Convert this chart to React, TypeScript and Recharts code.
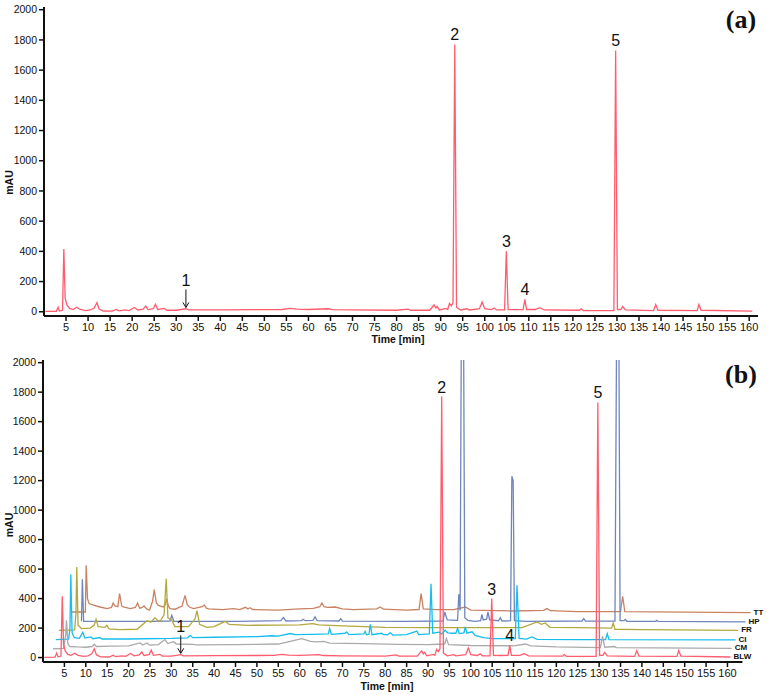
import { Line, LineChart, ReferenceDot, ReferenceLine, XAxis, YAxis } from "recharts"

type Pt = [number, number]

const FONT = "'Liberation Sans', Arial, Helvetica, sans-serif"

const X_TICKS = [
  5, 10, 15, 20, 25, 30, 35, 40, 45, 50, 55, 60, 65, 70, 75, 80, 85, 90, 95, 100,
  105, 110, 115, 120, 125, 130, 135, 140, 145, 150, 155, 160,
]
const Y_TICKS = [0, 200, 400, 600, 800, 1000, 1200, 1400, 1600, 1800, 2000]

// [time (min), mAU]
const BLW: Pt[] = [
  [0.3, 2], [2.8, 3], [3.2, 30], [3.5, 5], [4.2, 10], [4.5, 415], [4.8, 90], [5.2, 45],
  [5.8, 22], [6.6, 15], [7.4, 30], [8.2, 15], [9.5, 8], [10.5, 12], [11.4, 25], [12.0, 60],
  [12.5, 18], [13.5, 5], [15.5, 4], [16.4, 16], [17.0, 6], [18.4, 12], [19.3, 8], [20.5, 28],
  [21.3, 12], [22.5, 18], [23.1, 38], [23.6, 14], [24.8, 20], [25.3, 50], [25.8, 15],
  [27.3, 22], [27.9, 10], [30, 10], [32.2, 20], [32.8, 12], [40, 13], [50, 14], [54, 15],
  [55.8, 22], [57.5, 17], [60, 15], [64.5, 20], [65.5, 14], [70, 12], [80, 10], [82.6, 18],
  [83.2, 10], [87.5, 10], [88.5, 45], [88.9, 25], [89.2, 36], [89.7, 12], [91.2, 22],
  [91.6, 15], [92.0, 55], [92.4, 40], [92.8, 60], [93.2, 1770], [93.6, 30], [94.5, 12],
  [96, 20], [96.5, 12], [98.8, 20], [99.4, 65], [100.0, 20], [101.5, 14], [102.2, 25],
  [102.7, 12], [104.5, 12], [104.9, 400], [105.3, 15], [107, 14], [108.7, 15], [109.1, 82],
  [109.5, 15], [111.5, 15], [112.5, 27], [113.5, 12], [121.5, 10], [121.9, 20], [122.4, 8],
  [129.3, 8], [129.7, 1730], [130.1, 15], [130.9, 15], [131.3, 35], [131.9, 12], [138.3, 8],
  [138.8, 48], [139.3, 10], [148.2, 8], [148.6, 48], [149.1, 10], [160.7, 4],
]

const CM: Pt[] = [
  [2.4, 60], [4.8, 62], [5.3, 150], [5.5, 253], [5.8, 95], [6.3, 75], [8, 72], [10, 70],
  [11.5, 75], [12.0, 90], [12.5, 75], [16, 78], [20, 80], [22.7, 99], [23.3, 85], [24.3, 99],
  [24.9, 84], [27, 88], [28.5, 122], [29.2, 95], [30.5, 108], [31.2, 92], [35, 90], [36, 86],
  [45, 88], [55, 92], [57.8, 110], [60.5, 129], [62.5, 110], [64, 106], [65.6, 110], [67, 98],
  [75, 95], [83, 90], [90, 88], [93.9, 92], [94.3, 129], [94.8, 88], [100, 82], [110, 80],
  [112.8, 92], [114, 80], [120, 72], [130.3, 68], [130.8, 144], [131.3, 70], [133.6, 75],
  [134.0, 68], [161, 63],
]

const CI: Pt[] = [
  [3.0, 122], [6.0, 125], [6.3, 200], [6.5, 565], [6.8, 170], [7.3, 135], [8.5, 130],
  [9.3, 171], [9.8, 132], [11.2, 140], [11.7, 128], [13.3, 136], [13.8, 126], [20, 126],
  [30, 130], [33.8, 134], [34.4, 151], [35.0, 135], [40, 138], [50, 142], [53.5, 148],
  [55, 145], [57.8, 163], [59, 155], [63, 158], [66.7, 160], [67.0, 197], [67.4, 158],
  [70.6, 165], [71.0, 174], [71.5, 156], [75.0, 160], [75.3, 178], [75.6, 155], [76.2, 158],
  [76.5, 226], [76.9, 155], [79.2, 165], [79.5, 157], [80.5, 155], [81.2, 168], [81.8, 152],
  [85, 155], [87.4, 180], [87.8, 156], [90.3, 160], [90.7, 500], [91.1, 165], [92.6, 172],
  [93.2, 160], [94.0, 185], [94.6, 168], [95.5, 165], [96.5, 165], [96.9, 197], [97.3, 163],
  [98.4, 168], [98.7, 208], [99.1, 165], [100.3, 175], [101, 150], [103, 135], [105, 129],
  [110.4, 128], [110.8, 490], [111.3, 130], [113, 125], [114.3, 140], [115.5, 124],
  [125, 122], [131.5, 122], [131.9, 163], [132.3, 122], [161.9, 120],
]

const FR: Pt[] = [
  [3.7, 185], [7.4, 188], [7.7, 300], [7.9, 614], [8.2, 220], [9, 197], [11, 200], [12.0, 220],
  [12.4, 260], [12.9, 210], [14.5, 205], [14.9, 219], [15.4, 195], [18, 190], [22, 192],
  [24.3, 250], [25.2, 240], [26.2, 271], [26.8, 250], [27.4, 248], [28.3, 290], [28.8, 535],
  [29.2, 270], [30.1, 255], [30.8, 210], [34, 210], [35.5, 260], [36.0, 318], [36.6, 225],
  [38.3, 205], [40, 210], [42.6, 246], [43.5, 225], [48, 219], [55, 220], [60, 222], [63, 230],
  [64.5, 222], [70, 215], [80, 205], [90, 203], [100, 203], [112, 203], [115.5, 242],
  [116.5, 225], [117.4, 235], [118.5, 205], [125, 203], [132.9, 200], [133.3, 235],
  [133.7, 192], [140, 190], [162.5, 185],
]

const HP: Pt[] = [
  [9.0, 246], [9.2, 531], [9.5, 246], [15, 246], [25, 246], [29.7, 248], [30.1, 287],
  [30.6, 246], [45, 246], [55.6, 250], [56.2, 271], [56.8, 248], [60.4, 250], [60.8, 260],
  [61.3, 250], [63.1, 252], [63.6, 276], [64.1, 250], [69.2, 248], [69.6, 264], [70.0, 247],
  [85, 246], [93.5, 248], [93.9, 309], [94.5, 255], [96.9, 252], [97.2, 430], [97.5, 320],
  [97.8, 2300], [98.3, 2300], [98.6, 270], [99.3, 253], [101, 246], [102.3, 250], [102.6, 292],
  [102.9, 255], [103.7, 260], [104.0, 309], [104.4, 255], [106.5, 250], [106.9, 271],
  [107.3, 248], [109.3, 250], [109.6, 1230], [109.9, 1200], [110.2, 250], [113, 246],
  [126.0, 248], [126.4, 264], [126.8, 247], [133.7, 248], [134.1, 2300], [134.6, 2300],
  [134.9, 250], [135.8, 250], [136.1, 258], [136.5, 246], [143.2, 246], [143.5, 252],
  [143.8, 245], [164.2, 242],
]

const TT: Pt[] = [
  [6.7, 309], [9.9, 309], [10.1, 626], [10.4, 400], [10.8, 366], [11.8, 355], [13.3, 343],
  [15, 332], [16.0, 340], [16.4, 370], [16.8, 350], [17.5, 345], [17.9, 434], [18.4, 350],
  [18.8, 343], [20.4, 332], [21.6, 340], [22.1, 370], [22.6, 335], [23.1, 338], [23.6, 350],
  [24.2, 330], [24.9, 321], [25.6, 380], [26.0, 461], [26.5, 370], [26.9, 355], [28.1, 343],
  [28.6, 360], [28.9, 400], [29.3, 350], [29.7, 332], [30.9, 328], [32.5, 350], [33.2, 422],
  [33.7, 360], [34.2, 343], [35.2, 332], [37.2, 345], [37.7, 355], [38.2, 335], [38.7, 330],
  [42, 325], [44.5, 332], [46, 325], [47.3, 341], [47.9, 330], [48.4, 338], [49, 326],
  [55, 322], [60, 330], [63.2, 334], [64.7, 345], [65.2, 370], [65.7, 345], [66.5, 340],
  [68.3, 343], [70, 330], [72.5, 325], [78, 330], [78.8, 343], [79.6, 328], [85, 322],
  [87.9, 326], [88.4, 434], [88.9, 330], [92, 325], [96, 325], [98.7, 343], [100, 322],
  [110, 316], [117.0, 320], [117.8, 332], [118.6, 318], [125, 312], [135.0, 312],
  [135.5, 416], [136.0, 312], [150, 308], [165.4, 305],
]

const TRACES = [
  { name: "TT", color: "#c98262", pts: TT },
  { name: "HP", color: "#6f86bd", pts: HP },
  { name: "FR", color: "#b3a83e", pts: FR },
  { name: "CI", color: "#16bdee", pts: CI },
  { name: "CM", color: "#aaaaaa", pts: CM },
  { name: "BLW", color: "#ff5c6e", pts: BLW },
]

const PEAKS = [
  { label: "2", t: 93.2, v: 1770 },
  { label: "3", t: 104.9, v: 400 },
  { label: "4", t: 109.1, v: 82 },
  { label: "5", t: 129.7, v: 1730 },
]
const PEAK_ONE = { t: 32.2, v: 22 }

const rows = (pts: Pt[]) => pts.map(([t, v]) => ({ t, v }))

const center = (vb: any) => ({ cx: vb.x + vb.width / 2, cy: vb.y + vb.height / 2 })

const PeakText = ({ viewBox, text }: any) => {
  const { cx, cy } = center(viewBox)
  return (
    <text x={cx} y={cy - 4} textAnchor="middle" fontSize={16} fontFamily={FONT} fill="#111">
      {text}
    </text>
  )
}

const ArrowOne = ({ viewBox }: any) => {
  const { cx, cy } = center(viewBox)
  return (
    <g>
      <text x={cx} y={cy - 22} textAnchor="middle" fontSize={16} fontFamily={FONT} fill="#111">
        1
      </text>
      <line x1={cx} y1={cy - 19} x2={cx} y2={cy - 1} stroke="#111" strokeWidth={1} />
      <path d={`M${cx - 3},${cy - 6}L${cx},${cy - 1}L${cx + 3},${cy - 6}`} fill="none" stroke="#111" strokeWidth={1} />
    </g>
  )
}

// trace name written just past the end of each trace
const EndTag = ({ viewBox, text }: any) => {
  const { cx, cy } = center(viewBox)
  return (
    <text x={cx + 3} y={cy + 2} fontSize={8} fontWeight="bold" fontFamily={FONT} fill="#111">
      {text}
    </text>
  )
}

const axisLine = { stroke: "#111", strokeWidth: 2 }
const tickLine = { stroke: "#111", strokeWidth: 1.5 }
const xTick = { fontSize: 11, fill: "#111", fontFamily: FONT }
const yTick = { fontSize: 10.5, fill: "#111", fontFamily: FONT }
const titleFont = { fontSize: 10.5, fontWeight: "bold", fill: "#111", fontFamily: FONT }

const annotations = () => [
  ...PEAKS.map((p) => (
    <ReferenceDot key={"p" + p.label} x={p.t} y={p.v} r={1} fill="none" stroke="none" ifOverflow="visible" label={<PeakText text={p.label} />} />
  )),
  <ReferenceDot key="p1" x={PEAK_ONE.t} y={PEAK_ONE.v} r={1} fill="none" stroke="none" ifOverflow="visible" label={<ArrowOne />} />,
]

export default function App() {
  return (
    <div style={{ position: "absolute", left: 0, top: 0, width: 770, height: 695, background: "#fff" }}>
      <LineChart width={770} height={346} margin={{ top: 7, right: 12, bottom: 0, left: 0 }}>
        <XAxis
          type="number"
          dataKey="t"
          domain={[0, 162]}
          ticks={X_TICKS}
          interval={0}
          height={30}
          tickSize={5}
          tick={xTick}
          tickLine={tickLine}
          axisLine={axisLine}
          label={{ value: "Time [min]", position: "insideBottom", offset: 3, dx: -3, ...titleFont }}
        />
        <YAxis
          type="number"
          domain={[-28, 2018]}
          ticks={Y_TICKS}
          interval={0}
          allowDataOverflow
          width={44}
          tickSize={5}
          tick={yTick}
          tickLine={tickLine}
          axisLine={axisLine}
          label={{ value: "mAU", angle: -90, position: "insideLeft", offset: 9, dy: 21, style: { textAnchor: "middle" }, ...titleFont }}
        />
        <Line data={rows(BLW)} dataKey="v" type="linear" stroke="#ff5c6e" strokeWidth={1.3} dot={false} isAnimationActive={false} />
        {annotations()}
      </LineChart>

      <LineChart width={770} height={346} margin={{ top: 14, right: 19, bottom: 0, left: 0 }}>
        <XAxis
          type="number"
          dataKey="t"
          domain={[0, 165.5]}
          ticks={X_TICKS}
          interval={0}
          height={30}
          tickSize={5}
          tick={xTick}
          tickLine={tickLine}
          axisLine={false}
          label={{ value: "Time [min]", position: "insideBottom", offset: 2, dx: -10, ...titleFont }}
        />
        <YAxis
          type="number"
          domain={[-30, 2018]}
          ticks={Y_TICKS}
          interval={0}
          allowDataOverflow
          width={43}
          tickSize={5}
          tick={yTick}
          tickLine={tickLine}
          axisLine={axisLine}
          label={{ value: "mAU", angle: -90, position: "insideLeft", offset: 9, dy: 14, style: { textAnchor: "middle" }, ...titleFont }}
        />
        <ReferenceLine segment={[{ x: 0, y: -30 }, { x: 163.5, y: -30 }]} stroke="#111" strokeWidth={2} ifOverflow="visible" />
        {TRACES.map((s) => (
          <Line key={s.name} data={rows(s.pts)} dataKey="v" name={s.name} type="linear" stroke={s.color} strokeWidth={1.3} dot={false} isAnimationActive={false} />
        ))}
        {annotations()}
        {TRACES.map((s) => {
          const [t, v] = s.pts[s.pts.length - 1]
          return (
            <ReferenceDot key={"end" + s.name} x={t} y={v} r={1} fill="none" stroke="none" ifOverflow="visible" label={<EndTag text={s.name} />} />
          )
        })}
      </LineChart>

      <svg width={770} height={695} style={{ position: "absolute", left: 0, top: 0, pointerEvents: "none" }}>
        <text x={741} y={28} textAnchor="middle" fontSize={26} fontWeight="bold" fontFamily="'Liberation Serif', 'DejaVu Serif', serif" fill="#111">
          (a)
        </text>
        <text x={741} y={383} textAnchor="middle" fontSize={26} fontWeight="bold" fontFamily="'Liberation Serif', 'DejaVu Serif', serif" fill="#111">
          (b)
        </text>
      </svg>
    </div>
  )
}
